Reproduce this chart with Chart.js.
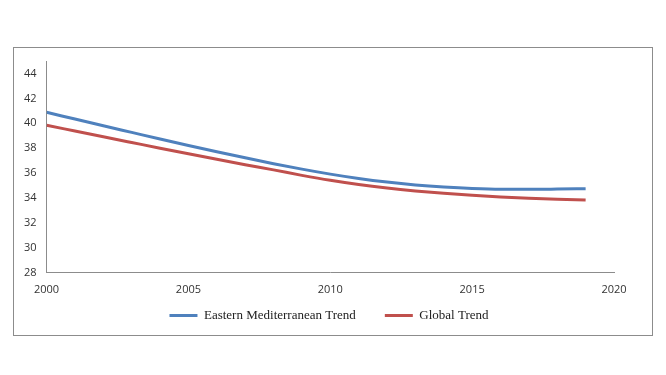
<!DOCTYPE html>
<html>
<head>
<meta charset="utf-8">
<script src="https://cdn.jsdelivr.net/npm/chart.js@4"></script>
<style>
  html, body { margin: 0; padding: 0; background: #fff; }
  body { width: 666px; height: 375px; position: relative; }
  #frame {
    position: absolute; left: 13px; top: 47px;
    width: 638px; height: 287px;
    border: 1px solid #8c8c8c;
  }
</style>
</head>
<body>
<div id="frame"><canvas id="trendChart"></canvas></div>
<script>
const years = [2000, 2001, 2002, 2003, 2004, 2005, 2006, 2007, 2008, 2009,
               2010, 2011, 2012, 2013, 2014, 2015, 2016, 2017, 2018, 2019];
const easternMed = [40.88, 40.34, 39.80, 39.27, 38.74, 38.22, 37.72, 37.23, 36.76, 36.32,
                    35.92, 35.57, 35.28, 35.05, 34.88, 34.76, 34.70, 34.70, 34.72, 34.75];
const globalTrend = [39.84, 39.38, 38.92, 38.46, 38.00, 37.55, 37.11, 36.68, 36.26, 35.82,
                     35.42, 35.08, 34.80, 34.57, 34.38, 34.22, 34.08, 33.98, 33.90, 33.84];
const yTicks = [28, 30, 32, 34, 36, 38, 40, 42, 44];
const xTicks = [2000, 2005, 2010, 2015, 2020];

function toPoints(values) {
  return years.map((y, i) => ({ x: y, y: values[i] }));
}

// legend sits centred under the plot, not under the whole canvas
const legendShift = {
  id: "legendShift",
  afterLayout(chart) {
    chart.legend.left += 15;
    chart.legend.right += 15;
  },
};

const ctx = document.getElementById("trendChart").getContext("2d");
new Chart(ctx, {
  type: "line",
  data: {
    datasets: [
      {
        label: "Eastern Mediterranean Trend",
        data: toPoints(easternMed),
        borderColor: "#4f81bd",
        backgroundColor: "#4f81bd",
        borderWidth: 3,
        pointRadius: 0,
        cubicInterpolationMode: "monotone",
      },
      {
        label: "Global Trend",
        data: toPoints(globalTrend),
        borderColor: "#c0504d",
        backgroundColor: "#c0504d",
        borderWidth: 3,
        pointRadius: 0,
        cubicInterpolationMode: "monotone",
      },
    ],
  },
  options: {
    responsive: true,
    maintainAspectRatio: false,
    animation: false,
    layout: { padding: { left: 0, right: 38, top: 13, bottom: 3 } },
    plugins: {
      tooltip: { enabled: false },
      legend: {
        position: "bottom",
        labels: {
          boxWidth: 28,
          boxHeight: 3,
          padding: 3,
          color: "#222",
          font: { family: "'Liberation Serif', 'Times New Roman', serif", size: 13 },
          // wider gap between the two entries, like the original
          generateLabels: (chart) => {
            const items = Chart.defaults.plugins.legend.labels.generateLabels(chart);
            items.forEach((it) => { it.lineWidth = 0; });
            items[0].text += "        ";
            return items;
          },
        },
      },
    },
    scales: {
      x: {
        type: "linear",
        min: 2000,
        max: 2020,
        afterBuildTicks: (axis) => { axis.ticks = xTicks.map((v) => ({ value: v })); },
        grid: { display: false, drawTicks: false },
        border: { color: "#8c8c8c", width: 1 },
        ticks: {
          padding: 10,
          color: "#333",
          maxRotation: 0,
          font: { family: "'Open Sans', sans-serif", size: 11 },
          callback: (v) => String(v),
        },
      },
      y: {
        min: 28,
        max: 45,
        afterBuildTicks: (axis) => { axis.ticks = yTicks.map((v) => ({ value: v })); },
        afterFit: (axis) => { axis.paddingTop = 0; axis.paddingBottom = 0; },
        grid: { display: false, drawTicks: false },
        border: { color: "#8c8c8c", width: 1 },
        ticks: {
          padding: 10,
          color: "#333",
          font: { family: "'Open Sans', sans-serif", size: 11 },
        },
      },
    },
  },
  plugins: [legendShift],
});
</script>
</body>
</html>
